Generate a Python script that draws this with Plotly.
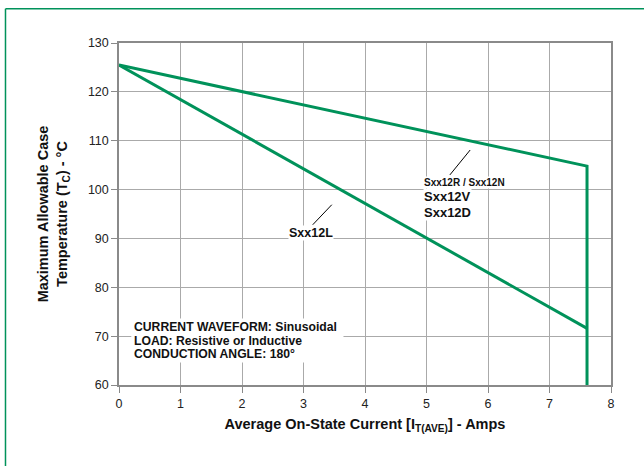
import plotly.graph_objects as go

# Data
upper_x = [0, 7.61, 7.61]
upper_y = [125.5, 104.8, 60]
lower_x = [0, 7.61]
lower_y = [125.5, 71.6]

x_ticks = [0, 1, 2, 3, 4, 5, 6, 7, 8]
y_ticks = [60, 70, 80, 90, 100, 110, 120, 130]

GREEN = "#00925a"
FONT = "Liberation Sans"

fig = go.Figure()
fig.add_trace(go.Scatter(x=upper_x, y=upper_y, mode="lines",
                         line=dict(color=GREEN, width=3), showlegend=False))
fig.add_trace(go.Scatter(x=lower_x, y=lower_y, mode="lines",
                         line=dict(color=GREEN, width=3), showlegend=False))

# pointer lines
fig.add_shape(type="line", x0=5.71, y0=108.1, x1=5.38, y1=103.0,
              line=dict(color="black", width=1))
fig.add_shape(type="line", x0=3.46, y0=96.9, x1=3.15, y1=92.8,
              line=dict(color="black", width=1))

# outer frame (top and left edges; right/bottom lie outside the picture)
fig.add_shape(type="line", xref="paper", yref="paper",
              x0=-0.2307, y0=1.1, x1=1.1, y1=1.1,
              line=dict(color=GREEN, width=1.5))
fig.add_shape(type="line", xref="paper", yref="paper",
              x0=-0.2307, y0=1.1, x1=-0.2307, y1=-0.25,
              line=dict(color=GREEN, width=1.5))

# white block behind the waveform note
fig.add_shape(type="rect", x0=0.2, x1=3.65, y0=64.6, y1=73.6,
              fillcolor="white", line=dict(width=0), layer="above")

def ann(x, y, text, size, anchor="left", bg="white"):
    fig.add_annotation(x=x, y=y, text=text, showarrow=False, xanchor=anchor,
                       yanchor="middle", bgcolor=bg, borderpad=0,
                       font=dict(family=FONT, size=size, color="#111"))

ann(4.94, 101.5, "<b>Sxx12R / Sxx12N</b>", 10)
ann(4.94, 98.5, "<b>Sxx12V</b>", 13)
ann(4.94, 95.3, "<b>Sxx12D</b>", 13)
ann(3.12, 91.1, "<b>Sxx12L</b>", 12.5, anchor="center")
ann(0.228, 71.9, "<b>CURRENT WAVEFORM: Sinusoidal</b>", 12.2, bg=None)
ann(0.228, 69.1, "<b>LOAD: Resistive or Inductive</b>", 12.2, bg=None)
ann(0.228, 66.3, "<b>CONDUCTION ANGLE: 180°</b>", 12.2, bg=None)

axis_common = dict(
    showgrid=True, gridcolor="#aaaaaa", gridwidth=1,
    showline=True, linecolor="#8a8a8a", linewidth=1.5, mirror=True,
    ticks="outside", ticklen=6, tickcolor="#8a8a8a", tickwidth=1,
    tickfont=dict(family=FONT, size=12.5, color="#222"), zeroline=False,
)

fig.update_xaxes(range=[0, 8], tickvals=x_ticks, **axis_common,
                 title=dict(text="<b>Average On-State Current [I<sub>T(AVE)</sub>] - Amps</b>",
                            font=dict(family=FONT, size=14.5, color="#111"), standoff=9))
fig.update_yaxes(range=[60, 130], tickvals=y_ticks, **axis_common,
                 title=dict(text="<b>Maximum Allowable Case<br>Temperature (T<sub>C</sub>) - °C</b>",
                            font=dict(family=FONT, size=14.5, color="#111"), standoff=17))

fig.update_layout(
    width=644, height=466,
    margin=dict(l=119, r=33, t=43, b=81),
    plot_bgcolor="white", paper_bgcolor="white",
    font=dict(family=FONT),
)

fig.write_html("out.html", config={"displayModeBar": False},
               post_script="document.body.style.margin='0';")
